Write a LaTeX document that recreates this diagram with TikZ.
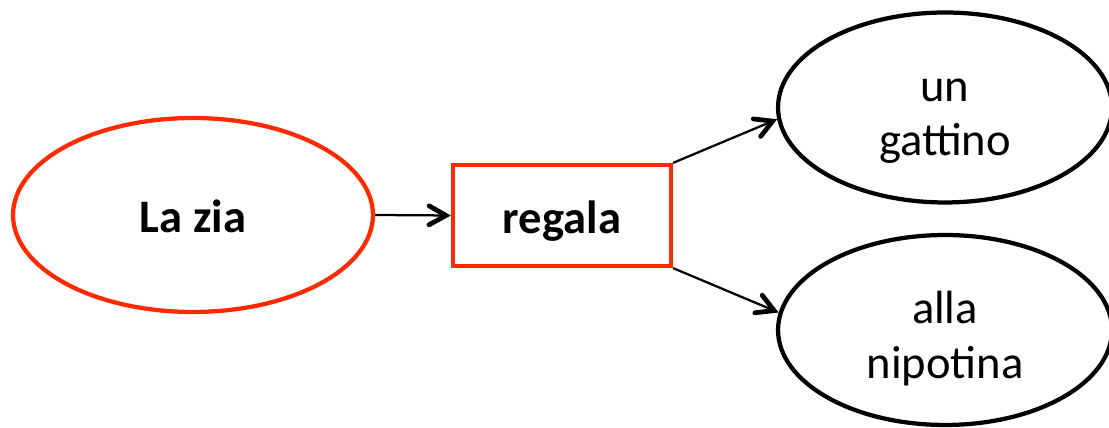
\documentclass[tikz,border=0pt]{standalone}
\usepackage{fontspec}
\setmainfont{Carlito}
\usetikzlibrary{shapes.geometric,arrows.meta}
\definecolor{head-node-color}{HTML}{FF2A00}

\begin{document}
\begin{tikzpicture}[x=0.02cm,y=0.02cm,
subj/.style={ellipse,draw=head-node-color,line width=0.085cm,minimum width=7.2cm,minimum height=3.88cm,text height=0.92cm,text depth=0.2cm},
verb/.style={rectangle,draw=head-node-color,line width=0.085cm,minimum width=4.36cm,minimum height=2.02cm,text height=0.92cm,text depth=0.2cm},
arg/.style={ellipse,draw=black,line width=0.085cm,minimum width=6.68cm,minimum height=3.8cm,align=center},
link/.style={draw=black,line width=0.045cm,-{Straight Barb[length=0.34cm,width=0.38cm,line width=0.095cm,line cap=round]}}]
\tikzstyle{every node}=[inner sep=0pt,font=\fontsize{26.5}{31.2}\selectfont]
\useasboundingbox (0,0) rectangle (1109,428);

\node (Subj) [subj] at (193,213) {\textbf{La zia}};
\node (Verb) [verb] at (562,212.5) {\textbf{regala}};
%
\node (Obj) [arg] at (945,320.5) {\rule{0pt}{1.0cm}un\\gattino};
\node (Dat) [arg] at (945,98) {\rule{0pt}{1.0cm}alla\\nipotina};
%
\draw[link] (Subj.east) -- (Verb.west);
\draw[link] (Verb.north east) -- (Obj.184);
\draw[link] (Verb.south east) -- (Dat.174);

\end{tikzpicture}
\end{document}
